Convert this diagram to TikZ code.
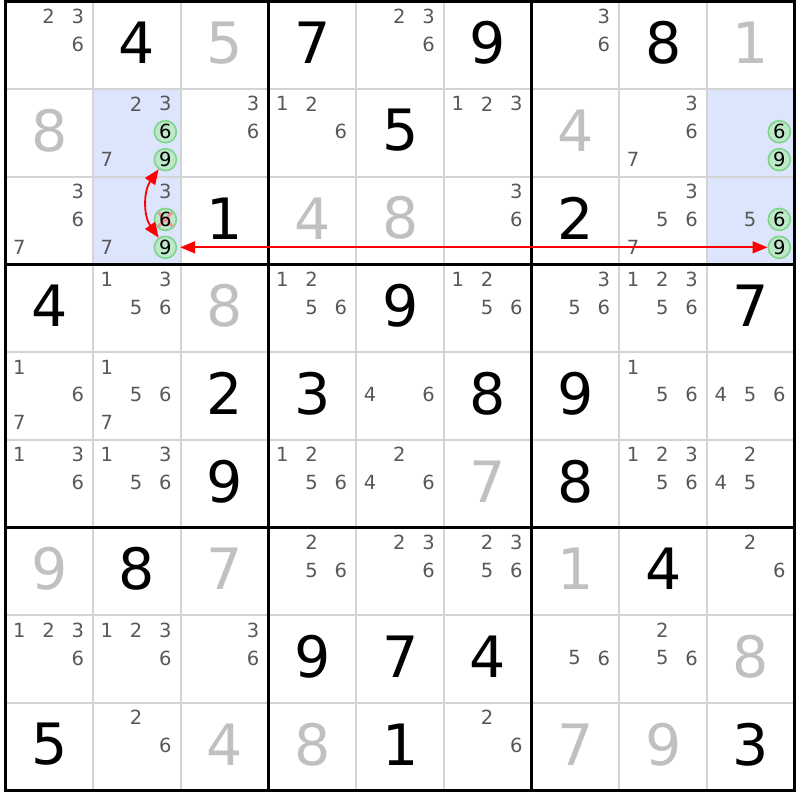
\documentclass[tikz,border=0pt]{standalone}
\usepackage{fontspec}
\setmainfont{DejaVu Sans}
\usetikzlibrary{arrows.meta}

\definecolor{candgray}{RGB}{88,88,88}
\definecolor{solvedgray}{RGB}{192,192,192}
\definecolor{cellblue}{RGB}{220,229,251}
\definecolor{gridgray}{RGB}{212,212,212}
\definecolor{hlfill}{RGB}{190,233,200}
\definecolor{hlline}{RGB}{125,212,138}
\definecolor{xred}{RGB}{240,150,150}

\tikzset{
  given/.style={inner sep=0pt,font=\fontsize{57}{60}\selectfont,yshift=2.5pt},
  solved/.style={given,text=solvedgray},
  cand/.style={inner sep=0pt,font=\fontsize{19.5}{21}\selectfont,text=candgray},
  hl/.style={cand,text=black,circle,draw=hlline,fill=hlfill,line width=1.6pt,minimum size=22pt},
  struck/.style={path picture={
      \draw[xred,line width=3pt]
        ([shift={(-7pt,-7pt)}]path picture bounding box.center) -- ([shift={(7pt,7pt)}]path picture bounding box.center)
        ([shift={(-7pt,7pt)}]path picture bounding box.center) -- ([shift={(7pt,-7pt)}]path picture bounding box.center);}},
  link/.style={red,line width=1.8pt,{Triangle[length=15pt,width=12pt]}-{Triangle[length=15pt,width=12pt]}}
}

\begin{document}
\begin{tikzpicture}[x=29.233pt,y=-29.233pt]

      \useasboundingbox (-0.188,-0.051) rectangle (27.178,27.315);

      \fill[cellblue] (3,3) rectangle (6,9);
      \fill[cellblue] (24,3) rectangle (27,9);

      \foreach \i in {3,6,12,15,21,24} {
        \draw[gridgray,line width=2pt] (\i,0) -- (\i,27);
        \draw[gridgray,line width=2pt] (0,\i) -- (27,\i);
      }
      \foreach \i in {0,9,18,27} {
        \draw[line width=3pt] (\i,-0.05) -- (\i,27.05);
        \draw[line width=3pt] (-0.05,\i) -- (27.05,\i);
      }

      \begin{scope}[every node/.style={given}]
        \node (g12) at (4.5,1.5)   {4};
        \node (g14) at (10.5,1.5)  {7};
        \node (g16) at (16.5,1.5)  {9};
        \node (g18) at (22.5,1.5)  {8};
        \node (g25) at (13.5,4.5)  {5};
        \node (g33) at (7.5,7.5)   {1};
        \node (g37) at (19.5,7.5)  {2};
        \node (g41) at (1.5,10.5)  {4};
        \node (g45) at (13.5,10.5) {9};
        \node (g49) at (25.5,10.5) {7};
        \node (g53) at (7.5,13.5)  {2};
        \node (g54) at (10.5,13.5) {3};
        \node (g56) at (16.5,13.5) {8};
        \node (g57) at (19.5,13.5) {9};
        \node (g63) at (7.5,16.5)  {9};
        \node (g67) at (19.5,16.5) {8};
        \node (g72) at (4.5,19.5)  {8};
        \node (g78) at (22.5,19.5) {4};
        \node (g84) at (10.5,22.5) {9};
        \node (g85) at (13.5,22.5) {7};
        \node (g86) at (16.5,22.5) {4};
        \node (g91) at (1.5,25.5)  {5};
        \node (g95) at (13.5,25.5) {1};
        \node (g99) at (25.5,25.5) {3};
      \end{scope}

      \begin{scope}[every node/.style={solved}]
        \node (s13) at (7.5,1.5)   {5};
        \node (s19) at (25.5,1.5)  {1};
        \node (s21) at (1.5,4.5)   {8};
        \node (s27) at (19.5,4.5)  {4};
        \node (s34) at (10.5,7.5)  {4};
        \node (s35) at (13.5,7.5)  {8};
        \node (s43) at (7.5,10.5)  {8};
        \node (s66) at (16.5,16.5) {7};
        \node (s71) at (1.5,19.5)  {9};
        \node (s73) at (7.5,19.5)  {7};
        \node (s77) at (19.5,19.5) {1};
        \node (s89) at (25.5,22.5) {8};
        \node (s93) at (7.5,25.5)  {4};
        \node (s94) at (10.5,25.5) {8};
        \node (s97) at (19.5,25.5) {7};
        \node (s98) at (22.5,25.5) {9};
      \end{scope}

      \foreach \r/\c/\n in {1/1/2,1/1/3,1/1/6,1/5/2,1/5/3,1/5/6,1/7/3,1/7/6,
          2/2/2,2/2/3,2/2/7,2/3/3,2/3/6,2/4/1,2/4/2,2/4/6,2/6/1,2/6/2,2/6/3,2/8/3,2/8/6,2/8/7,
          3/1/3,3/1/6,3/1/7,3/2/3,3/2/7,3/6/3,3/6/6,3/8/3,3/8/5,3/8/6,3/8/7,3/9/5,
          4/2/1,4/2/3,4/2/5,4/2/6,4/4/1,4/4/2,4/4/5,4/4/6,4/6/1,4/6/2,4/6/5,4/6/6,
          4/7/3,4/7/5,4/7/6,4/8/1,4/8/2,4/8/3,4/8/5,4/8/6,
          5/1/1,5/1/6,5/1/7,5/2/1,5/2/5,5/2/6,5/2/7,5/5/4,5/5/6,5/8/1,5/8/5,5/8/6,5/9/4,5/9/5,5/9/6,
          6/1/1,6/1/3,6/1/6,6/2/1,6/2/3,6/2/5,6/2/6,6/4/1,6/4/2,6/4/5,6/4/6,6/5/2,6/5/4,6/5/6,
          6/8/1,6/8/2,6/8/3,6/8/5,6/8/6,6/9/2,6/9/4,6/9/5,
          7/4/2,7/4/5,7/4/6,7/5/2,7/5/3,7/5/6,7/6/2,7/6/3,7/6/5,7/6/6,7/9/2,7/9/6,
          8/1/1,8/1/2,8/1/3,8/1/6,8/2/1,8/2/2,8/2/3,8/2/6,8/3/3,8/3/6,8/7/5,8/7/6,8/8/2,8/8/5,8/8/6,
          9/2/2,9/2/6,9/6/2,9/6/6}
        \node[cand] (c\r\c\n) at ({3*\c-2.53+mod(\n-1,3)},{3*\r-2.5+0.955*floor((\n-1)/3)}) {\n};

      \node[hl] (c226) at (5.47,4.455)  {6};
      \node[hl] (c229) at (5.47,5.41)   {9};
      \node[hl,struck] (c326) at (5.47,7.455) {6};
      \node[hl] (c329) at (5.47,8.41)   {9};
      \node[hl] (c296) at (26.47,4.455) {6};
      \node[hl] (c299) at (26.47,5.41)  {9};
      \node[hl] (c396) at (26.47,7.455) {6};
      \node[hl] (c399) at (26.47,8.41)  {9};

      \draw[link] (c229) to[bend right=35] (c329);
      \draw[link,shorten <=3pt] (c329) -- (c399);

\end{tikzpicture}
\end{document}
